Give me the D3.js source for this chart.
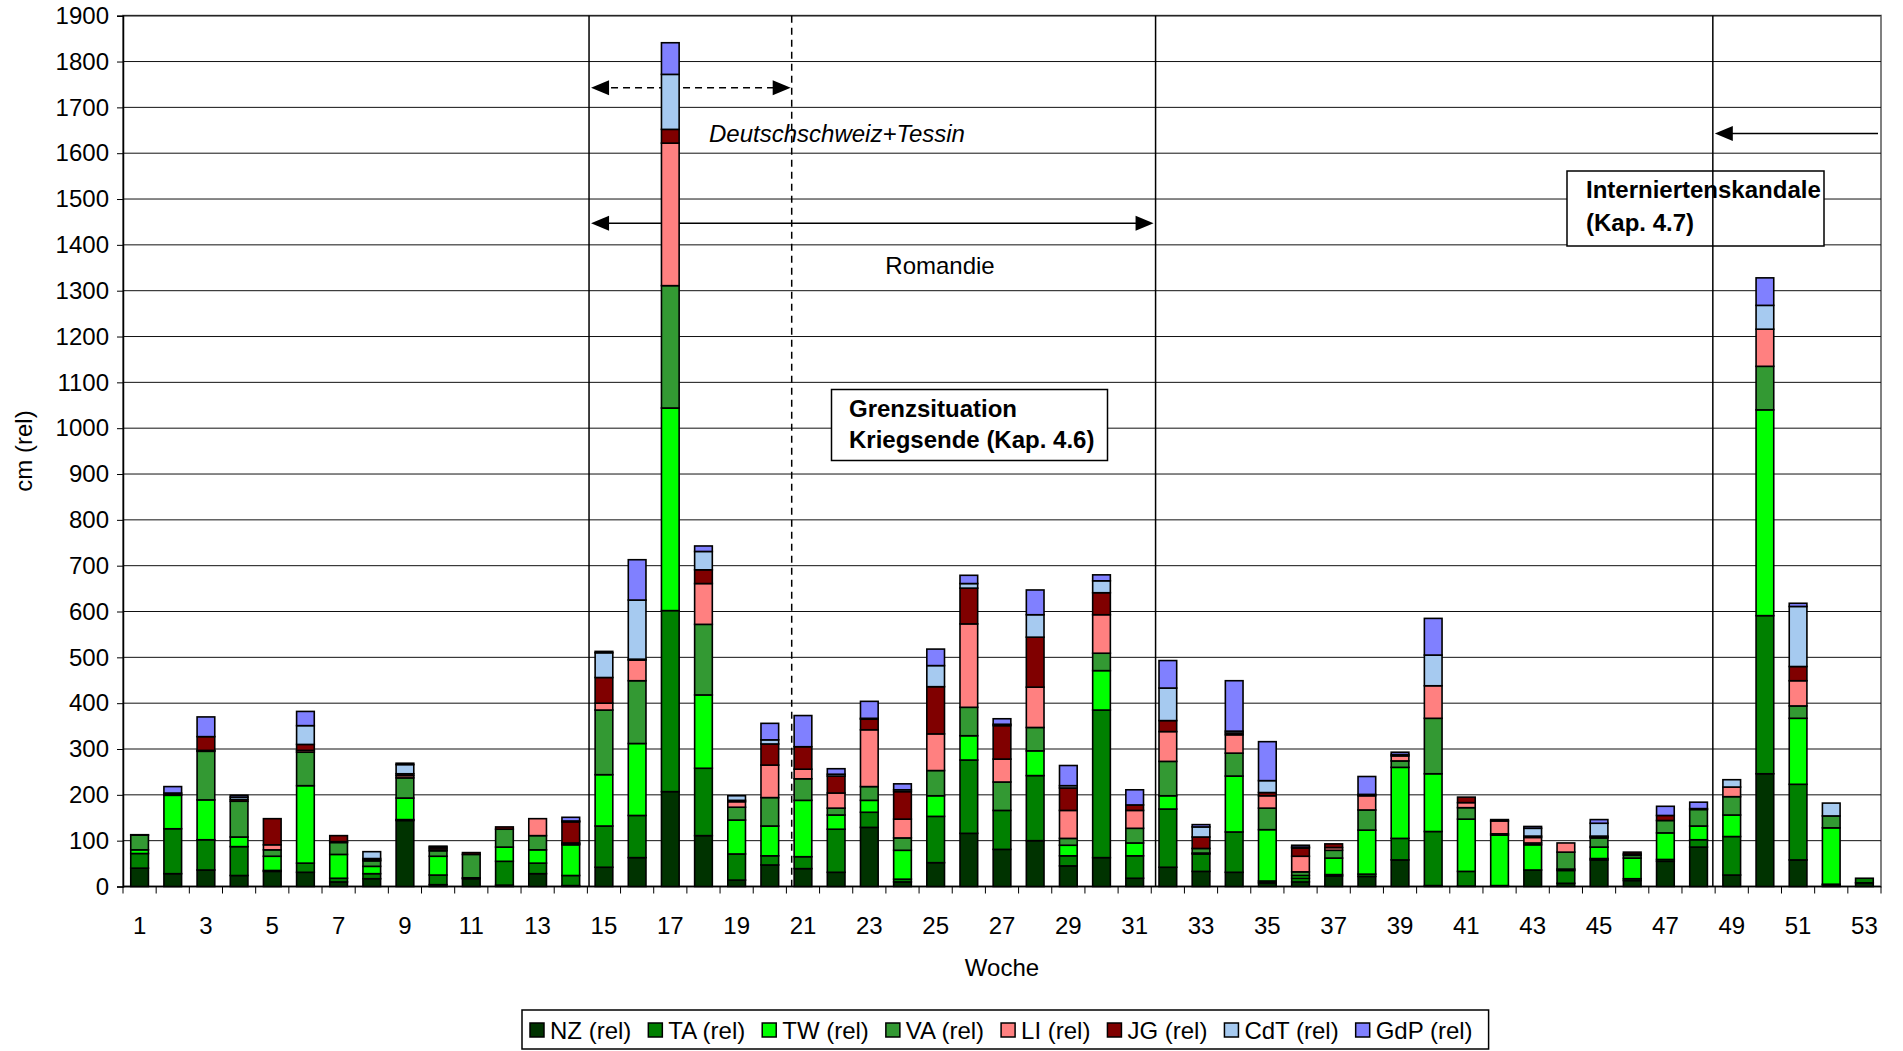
<!DOCTYPE html>
<html>
<head>
<meta charset="utf-8">
<script src="https://cdn.jsdelivr.net/npm/d3@7"></script>
<style>
  body { margin: 0; background: #fff; }
  svg { display: block; }
  text { font-family: "Liberation Sans", Arial, sans-serif; fill: #000; }
</style>
</head>
<body>
<svg id="chart" width="1903" height="1051"></svg>
<script>
// Weekly press coverage (cm, relative) by newspaper, weeks 1–53
const weeks = d3.range(1, 54);
const seriesKeys = ["NZ", "TA", "TW", "VA", "LI", "JG", "CdT", "GdP"];
const seriesLabels = ["NZ (rel)", "TA (rel)", "TW (rel)", "VA (rel)", "LI (rel)", "JG (rel)", "CdT (rel)", "GdP (rel)"];
const seriesColors = ["#003300", "#008000", "#00ff00", "#339933", "#ff8080", "#800000", "#a6caf0", "#8080ff"];

const NZ  = [40,28,36,24,33,31,10,17,144,4,17,3,28,2,42,63,207,111,14,47,39,31,129,10,52,116,81,100,45,63,18,42,33,31,8,10,23,22,58,2,1,0,36,7,58,13,55,86,25,246,58,3,8];
const TA  = [32,98,66,63,2,20,8,11,2,21,2,52,23,22,90,92,395,147,57,20,26,94,33,6,101,160,85,142,22,322,49,127,38,88,4,8,3,5,47,118,32,2,0,28,3,4,4,16,84,345,165,2,10];
const TW  = [8,73,87,21,31,169,52,16,47,41,0,31,29,67,112,157,442,160,74,65,123,31,26,63,45,53,0,54,23,86,28,29,2,122,112,6,36,96,155,126,114,110,55,3,25,45,58,30,47,449,144,123,0];
const VA  = [32,0,106,78,14,73,26,12,44,12,51,39,31,2,141,137,267,154,28,62,47,15,30,27,55,62,62,51,15,38,32,75,10,50,47,8,17,44,14,121,25,3,4,37,20,6,27,36,40,95,27,26,0];
const LI  = [0,0,2,0,11,4,2,2,5,4,0,0,37,2,15,45,311,89,12,71,21,33,124,41,80,182,50,88,61,84,39,65,0,40,27,34,6,31,11,71,11,28,12,20,2,3,0,0,21,81,55,0,0];
const JG  = [1,2,30,4,57,13,13,3,4,4,4,5,0,46,56,2,30,30,3,46,49,37,23,60,103,78,73,109,49,48,12,24,25,4,7,18,8,3,3,0,12,3,3,0,2,4,11,2,0,0,31,0,0];
const CdT = [0,3,0,5,0,41,0,15,20,0,0,0,0,2,54,129,120,40,10,9,0,4,2,4,46,10,3,49,5,26,0,71,22,4,26,2,0,0,0,67,0,0,17,0,28,0,0,0,16,52,131,28,0];
const GdP = [0,14,43,4,0,31,0,0,3,2,0,0,0,8,3,88,69,12,0,36,68,12,37,13,36,18,12,54,44,13,33,60,5,110,85,4,0,39,5,80,0,0,4,0,8,0,20,14,0,60,7,0,0];

const yTicks = d3.range(0, 1901, 100);
const xTickLabels = weeks.filter(w => w % 2 === 1);

// Build the table the stack generator needs
const seriesArrays = [NZ, TA, TW, VA, LI, JG, CdT, GdP];
const table = weeks.map((w, i) => {
  const row = { week: w };
  seriesKeys.forEach((k, j) => { row[k] = seriesArrays[j][i]; });
  return row;
});

const svg = d3.select("#chart");
const plot = { left: 123, right: 1881, top: 15.7, bottom: 886.5 };

const x = d3.scaleBand().domain(weeks).range([plot.left, plot.right])
  .paddingInner(0.467).paddingOuter(0.2335);
// continuous week-position scale (category boundaries at integers)
const xPos = d3.scaleLinear().domain([0, 53]).range([plot.left, plot.right]);
const y = d3.scaleLinear().domain([0, 1900]).range([plot.bottom, plot.top]);

// plot frame
svg.append("rect")
  .attr("x", plot.left).attr("y", plot.top)
  .attr("width", plot.right - plot.left).attr("height", plot.bottom - plot.top)
  .attr("fill", "#fff").attr("stroke", "#808080").attr("stroke-width", 2);

// horizontal gridlines
svg.append("g").selectAll("line").data(yTicks.filter(t => t > 0)).join("line")
  .attr("x1", plot.left).attr("x2", plot.right)
  .attr("y1", d => y(d)).attr("y2", d => y(d))
  .attr("stroke", "#111").attr("stroke-width", 1);

// y axis
const yAxis = svg.append("g").attr("transform", `translate(${plot.left},0)`)
  .call(d3.axisLeft(y).tickValues(yTicks).tickFormat(d3.format("d")).tickSize(6).tickPadding(8));
yAxis.select(".domain").attr("stroke", "#000").attr("stroke-width", 1.5);
yAxis.selectAll(".tick line").attr("stroke", "#000");
yAxis.selectAll("text").attr("font-size", 24).attr("font-family", "Liberation Sans, Arial, sans-serif").attr("fill", "#000");

// x axis: ticks on category boundaries, labels on odd weeks
svg.append("g").selectAll("line").data(d3.range(0, 54)).join("line")
  .attr("x1", d => xPos(d)).attr("x2", d => xPos(d))
  .attr("y1", plot.bottom).attr("y2", plot.bottom + 7)
  .attr("stroke", "#000").attr("stroke-width", 1);
svg.append("line")
  .attr("x1", plot.left).attr("x2", plot.right)
  .attr("y1", plot.bottom).attr("y2", plot.bottom)
  .attr("stroke", "#000").attr("stroke-width", 1.5);
svg.append("g").selectAll("text").data(xTickLabels).join("text")
  .attr("x", d => x(d) + x.bandwidth() / 2)
  .attr("y", 934)
  .attr("text-anchor", "middle")
  .attr("font-size", 24)
  .text(d => d);

// region arrows (behind bars)
const arrowY = { dashed: y(1743), romandie: y(1447), intern: y(1643) };
const markers = [14.05, 20.16, 31.13, 47.93];
function arrowHead(g, tipX, yy, dir) {
  const L = 18, H = 7.5;
  g.append("path")
    .attr("d", `M${tipX},${yy} L${tipX - dir * L},${yy - H} L${tipX - dir * L},${yy + H} Z`)
    .attr("fill", "#000");
}
const arrows = svg.append("g");
// Deutschschweiz+Tessin (dashed, both directions)
arrows.append("line")
  .attr("x1", xPos(markers[0]) + 10).attr("x2", xPos(markers[1]) - 10)
  .attr("y1", arrowY.dashed).attr("y2", arrowY.dashed)
  .attr("stroke", "#000").attr("stroke-width", 1.5).attr("stroke-dasharray", "7,5");
arrowHead(arrows, xPos(markers[0]) + 2, arrowY.dashed, -1);
arrowHead(arrows, xPos(markers[1]) - 1, arrowY.dashed, 1);
// Romandie (solid, both directions)
arrows.append("line")
  .attr("x1", xPos(markers[0]) + 10).attr("x2", xPos(markers[2]) - 10)
  .attr("y1", arrowY.romandie).attr("y2", arrowY.romandie)
  .attr("stroke", "#000").attr("stroke-width", 1.5);
arrowHead(arrows, xPos(markers[0]) + 2, arrowY.romandie, -1);
arrowHead(arrows, xPos(markers[2]) - 2, arrowY.romandie, 1);

// stacked bars
const stack = d3.stack().keys(seriesKeys)(table);
const barLayer = svg.append("g");
stack.forEach((layer, j) => {
  barLayer.append("g")
    .attr("fill", seriesColors[j])
    .selectAll("rect").data(layer).join("rect")
    .attr("x", d => x(d.data.week))
    .attr("width", x.bandwidth())
    .attr("y", d => y(d[1]))
    .attr("height", d => Math.max(0, y(d[0]) - y(d[1])))
    .attr("stroke", "#000").attr("stroke-width", 1.6);
});

// annotation boxes
function noteBox(bx, by, bw, bh, lines, tx, baselines) {
  const g = svg.append("g");
  g.append("rect").attr("x", bx).attr("y", by).attr("width", bw).attr("height", bh)
    .attr("fill", "#fff").attr("stroke", "#000").attr("stroke-width", 1.5);
  lines.forEach((t, i) => {
    g.append("text").attr("x", tx).attr("y", baselines[i])
      .attr("font-size", 24).attr("font-weight", "bold").text(t);
  });
}
noteBox(831.5, 389.5, 276, 71, ["Grenzsituation", "Kriegsende (Kap. 4.6)"], 849, [416.5, 448]);
noteBox(1567, 171, 257, 75, ["Interniertenskandale", "(Kap. 4.7)"], 1586, [198, 231]);

// period separators
const sep = svg.append("g");
markers.forEach((m, i) => {
  sep.append("line")
    .attr("x1", xPos(m)).attr("x2", xPos(m))
    .attr("y1", plot.top).attr("y2", plot.bottom)
    .attr("stroke", "#000").attr("stroke-width", 1.5)
    .attr("stroke-dasharray", i === 1 ? "7,5" : null);
});

// Interniertenskandale arrow pointing left
sep.append("line")
  .attr("x1", xPos(markers[3]) + 10).attr("x2", plot.right - 3)
  .attr("y1", arrowY.intern).attr("y2", arrowY.intern)
  .attr("stroke", "#000").attr("stroke-width", 1.5);
arrowHead(sep, xPos(markers[3]) + 2, arrowY.intern, -1);

// region labels
svg.append("text").attr("x", 709).attr("y", y(1642) + 8.5)
  .attr("font-size", 24).attr("font-style", "italic").text("Deutschschweiz+Tessin");
svg.append("text").attr("x", 940).attr("y", y(1356) + 8.5)
  .attr("text-anchor", "middle").attr("font-size", 24).text("Romandie");

// axis titles
svg.append("text").attr("x", 1002).attr("y", 976)
  .attr("text-anchor", "middle").attr("font-size", 24).text("Woche");
svg.append("text").attr("transform", "translate(32,451) rotate(-90)")
  .attr("text-anchor", "middle").attr("font-size", 24).text("cm (rel)");

// legend
const legend = svg.append("g");
const legendBox = legend.append("rect")
  .attr("y", 1010).attr("height", 39)
  .attr("fill", "#fff").attr("stroke", "#000").attr("stroke-width", 1.5);
let lx = 530;
seriesLabels.forEach((lab, j) => {
  legend.append("rect").attr("x", lx).attr("y", 1023).attr("width", 14).attr("height", 14)
    .attr("fill", seriesColors[j]).attr("stroke", "#000").attr("stroke-width", 1.5);
  const t = legend.append("text").attr("x", lx + 20).attr("y", 1038.5)
    .attr("font-size", 24).text(lab);
  lx += 20 + t.node().getComputedTextLength() + 17;
});
legendBox.attr("x", 522).attr("width", lx - 17 + 16 - 522);
</script>
</body>
</html>
